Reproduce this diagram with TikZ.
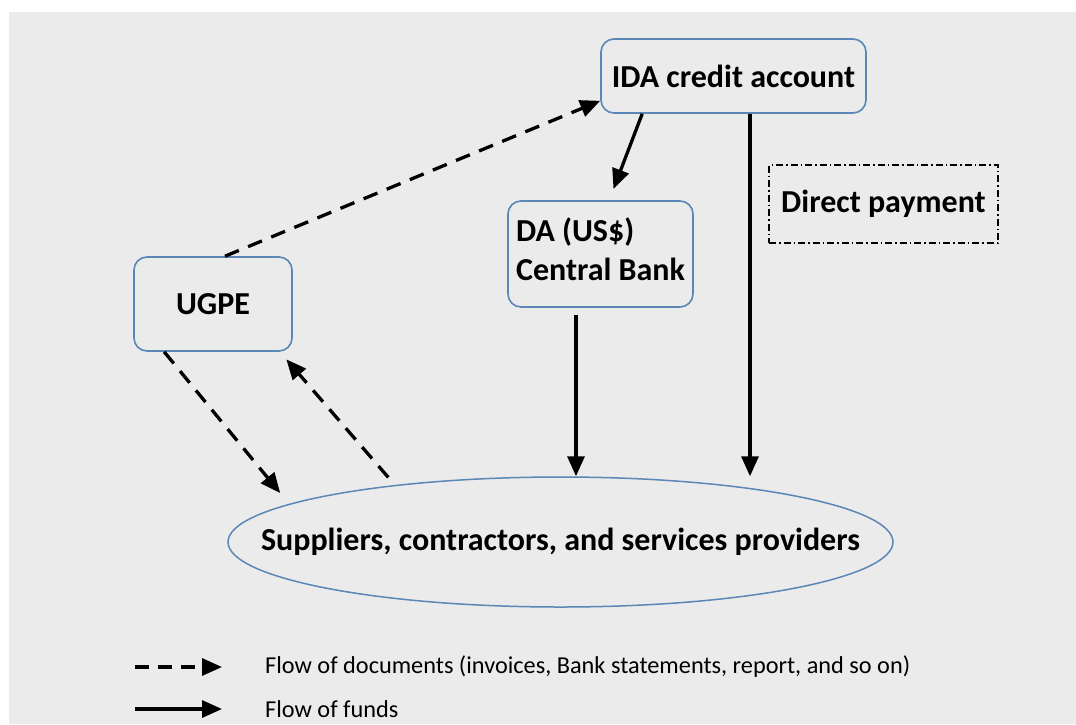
\documentclass[tikz,border=0pt]{standalone}
\usepackage{fontspec}
\setmainfont{Carlito}
\usetikzlibrary{arrows.meta,positioning,calc,shapes.geometric}
\definecolor{PanelGrey}{HTML}{EBEBEB}
\definecolor{EdgeBlue}{HTML}{5A87B6}

\begin{document}
\begin{tikzpicture}[
  x=1pt,y=-1pt,
  every node/.style={font=\fontsize{32}{39}\selectfont\bfseries,align=center},
  box/.style={draw=EdgeBlue,line width=1.6pt,rounded corners=13pt,inner sep=0pt},
  pbox/.style={draw=black,line width=1.2pt,dash pattern=on 7pt off 3pt on 1.5pt off 3pt,inner sep=0pt},
  party/.style={ellipse,draw=EdgeBlue,line width=1.5pt,inner xsep=-80pt,inner ysep=0pt,minimum width=665pt,minimum height=130pt},
  fund/.style={-{Triangle[length=20pt,width=17pt]},line width=3.3pt},
  doc/.style={fund,dash pattern=on 15pt off 10pt},
  key/.style={font=\fontsize{24.3}{28}\selectfont,anchor=west,inner sep=0pt}
]
\useasboundingbox (0,0) rectangle (1076,724);
\fill[white] (0,0) rectangle (1076,724);
\fill[PanelGrey] (9,12) rectangle (1076,724);

% boxes
\node[box,minimum width=265pt,minimum height=74pt] (ida) at (733.5,76) {IDA credit account};
\node[box,minimum width=185pt,minimum height=106pt,align=left] (da) at (600.5,254) {DA (US\$)\\Central Bank\\[-30pt]\mbox{}};
\node[pbox,minimum width=229pt,minimum height=78pt] (pay) at (883.5,204) {Direct payment};
\node[box,minimum width=158pt,minimum height=94pt] (ugpe) at (213,304) {UGPE};
\node[party] (sup) at (560.5,542) {Suppliers, contractors, and services providers};

% flows
\draw[doc] ([xshift=12]ugpe.north) -- ([yshift=13]ida.south west);
\draw[fund,shorten >=12pt] ([xshift=42]ida.south west) -- ([xshift=102]da.north west);
\draw[fund] ([xshift=16.5]ida.south) -- ([xshift=16.5]ida.south |- sup.north);
\draw[fund,shorten <=7pt] ([xshift=-24.5]da.south) -- ([xshift=-24.5]da.south |- sup.north);
\draw[doc,shorten >=14pt] ([xshift=31]ugpe.south west) -- (sup.172);
\draw[doc,shorten <=10pt,shorten >=10pt] (sup.161.5) -- ([xshift=-13]ugpe.south east);

% legend
\node[key] (kdoc) at (265,667) {Flow of documents (invoices, Bank statements, report, and so on)};
\node[key] (kfund) at (265,709) {Flow of funds};
\coordinate (kdocs) at (135,667);
\coordinate (kfunds) at (135,709);
\draw[doc,dash pattern=on 14pt off 9pt] (kdocs) -- ([xshift=-43]kdoc.west);
\draw[fund] (kfunds) -- ([xshift=-43]kfund.west);
\end{tikzpicture}
\end{document}
